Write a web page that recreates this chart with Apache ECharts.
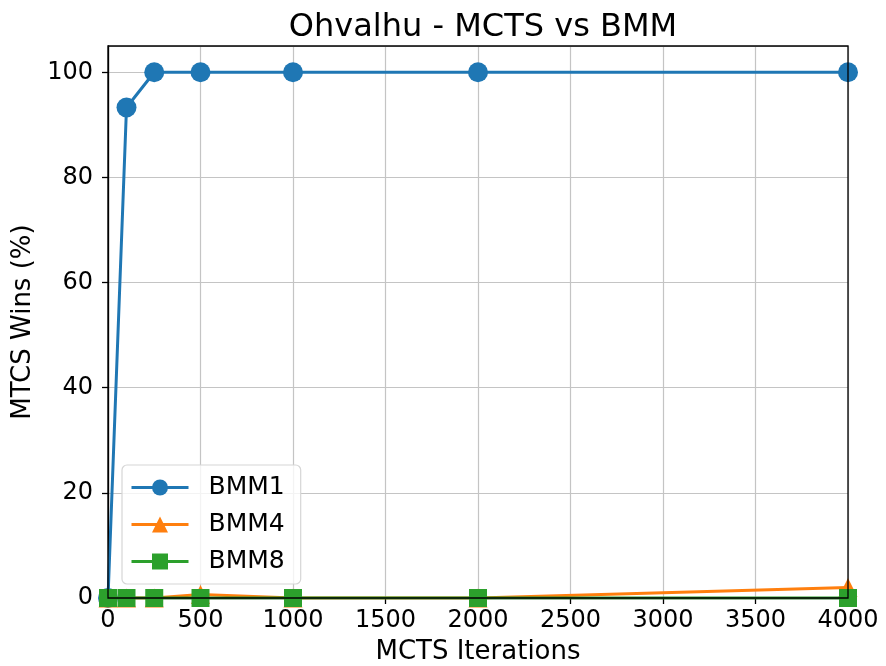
<!DOCTYPE html>
<html><head><meta charset="utf-8">
<script src="https://cdn.jsdelivr.net/npm/echarts@6/dist/echarts.min.js"></script>
<style>html,body{margin:0;padding:0;background:#fff}#c{width:886px;height:666px}</style>
</head><body><div id="c"></div>
<script>
const iterations = [0, 100, 250, 500, 1000, 2000, 4000];
const bmm1 = [0, 93.3, 100, 100, 100, 100, 100];
const bmm4 = [0, 0, 0, 0.67, 0, 0, 2];
const bmm8 = [0, 0, 0, 0, 0, 0, 0];
const xTicks = [0, 500, 1000, 1500, 2000, 2500, 3000, 3500, 4000];
const yTicks = [0, 20, 40, 60, 80, 100];

const font = 'DejaVu Sans';
const pair = arr => iterations.map((x, i) => [x, arr[i]]);
const chart = echarts.init(document.getElementById('c'));
chart.setOption({
  animation: false,
  title: {text: 'Ohvalhu - MCTS vs BMM', left: 478, textAlign: 'center', top: 7,
    textStyle: {fontFamily: font, fontSize: 32, fontWeight: 'normal', color: '#000'}},
  grid: {left: 108, right: 38, top: 46, bottom: 68, containLabel: false, outerBoundsMode: 'none'},
  xAxis: {type: 'value', min: 0, max: 4000, interval: 500,
    name: 'MCTS Iterations', nameLocation: 'middle', nameGap: 41,
    nameTextStyle: {fontFamily: font, fontSize: 26, color: '#000'},
    axisLine: {show: true, onZero: false, lineStyle: {color: '#000', width: 1.3}},
    axisTick: {show: true, length: 6, lineStyle: {color: '#000', width: 1.3}},
    axisLabel: {fontFamily: font, fontSize: 24, color: '#000', margin: 11, hideOverlap: false,
      formatter: v => xTicks.includes(v) ? String(v) : ''},
    splitLine: {show: true, lineStyle: {color: '#c4c4c4', width: 1.2}}},
  yAxis: {type: 'value', min: 0, max: 105, interval: 20,
    name: 'MTCS Wins (%)', nameLocation: 'middle', nameGap: 71, nameRotate: 90,
    nameTextStyle: {fontFamily: font, fontSize: 26, color: '#000'},
    axisLine: {show: true, onZero: false, lineStyle: {color: '#000', width: 1.3}},
    axisTick: {show: true, length: 6, lineStyle: {color: '#000', width: 1.3}},
    axisLabel: {fontFamily: font, fontSize: 24, color: '#000', margin: 15, showMaxLabel: false,
      formatter: v => yTicks.includes(v) ? String(v) : ''},
    splitLine: {show: true, lineStyle: {color: '#c4c4c4', width: 1.2}}},
  legend: {left: 122, top: 465, orient: 'vertical', itemGap: 12,
    itemWidth: 57, itemHeight: 20,
    lineStyle: {width: 3},
    backgroundColor: 'rgba(255,255,255,0.8)', borderColor: '#d6d6d6', borderWidth: 1.2,
    borderRadius: 5, padding: [10, 16, 10, 8],
    textStyle: {fontFamily: font, fontSize: 25, lineHeight: 25, color: '#000', padding: [0, 0, 0, 15]},
    data: ['BMM1', 'BMM4', 'BMM8']},
  series: [
    {name: 'BMM1', type: 'line', data: pair(bmm1), symbol: 'circle', symbolSize: 20,
      color: '#1f77b4', lineStyle: {width: 3}, z: 2},
    {name: 'BMM4', type: 'line', data: pair(bmm4), symbol: 'triangle', symbolSize: 19,
      color: '#ff7f0e', lineStyle: {width: 3}, z: 3},
    {name: 'BMM8', type: 'line', data: pair(bmm8), symbol: 'rect', symbolSize: 18,
      color: '#2ca02c', lineStyle: {width: 3}, z: 4}
  ],
  graphic: [{type: 'rect', shape: {x: 108, y: 46, width: 740, height: 552}, silent: true,
    style: {fill: 'none', stroke: '#000', lineWidth: 1.3}, z: 100}]
});
</script></body></html>
